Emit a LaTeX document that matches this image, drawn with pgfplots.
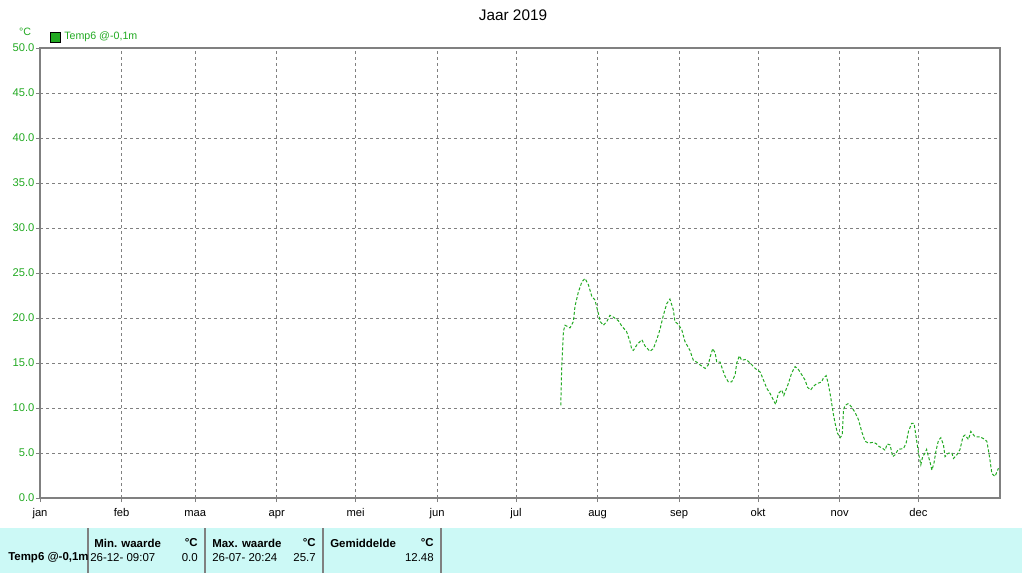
\documentclass[border=0pt]{standalone}
\usepackage{fontspec}
\setmainfont{Liberation Sans}
\usepackage{pgfplots}
\pgfplotsset{compat=1.18}

\definecolor{lijn}{RGB}{34,170,34}
\definecolor{kader}{RGB}{128,128,128}
\definecolor{tabel}{RGB}{204,249,246}

% pixel grid of the reference: 1 px = 0.75 pt
\begin{document}
\begin{tikzpicture}[font=\fontsize{8}{9.6}\selectfont]
\begin{scope}[x=0.75pt, y=-0.75pt]
  \useasboundingbox (0,0) rectangle (1024,573);
  \fill[white] (0,0) rectangle (1024,573);
  \node at (513,15) {\fontsize{11.5}{13}\selectfont Jaar 2019};
  \node[lijn] at (25,32) {°C};
  \draw[black, fill=lijn] (50,32) rectangle (60,42);
  \node[lijn, anchor=west, inner sep=0pt] at (64,37) {Temp6 @-0,1m};
\end{scope}

\begin{axis}[
    at={(30pt,-373.5pt)}, anchor=south west,
    scale only axis,
    width=720pt, height=337.5pt,
    xmin=0, xmax=365, ymin=0, ymax=50,
    xtick={0,31,59,90,120,151,181,212,243,273,304,334},
    xticklabels={jan,feb,maa,apr,mei,jun,jul,aug,sep,okt,nov,dec},
    ytick={0,5,...,50},
    xtick pos=left, ytick pos=left,
    tick align=outside, major tick length=3pt,
    tick style={kader, line width=0.75pt},
    axis line style={kader, line width=1.5pt},
    grid=major,
    major grid style={kader, line width=0.75pt, dash pattern=on 2.25pt off 2.25pt},
    /pgf/number format/assume math mode=true,
    yticklabel style={lijn, font=\fontsize{8.4}{10}\selectfont, inner sep=1pt, /pgf/number format/.cd, fixed, fixed zerofill, precision=1},
    xticklabel style={black, font=\fontsize{8.4}{10}\selectfont, inner sep=0pt, text height=6pt, text depth=2pt, yshift=-5pt},
]
\addplot[lijn, line width=0.75pt, dash pattern=on 2.25pt off 1.5pt] coordinates {
(198,10.3) (198.3,14.0) (198.6,16.1) (199,18.5) (199.6,19.2) (201.5,18.9)
(202.8,19.6) (203.4,21.3) (204.7,22.9) (206,24.0) (207.2,24.4) (208.5,23.7)
(209.8,22.4) (211,22.0) (212.3,20.5) (213,19.6) (214.2,19.2) (215.5,19.6)
(216.7,20.3) (218,20.1) (219.9,19.7) (221.2,19.1) (223,18.5) (224.3,17.4)
(225,16.5) (225.6,16.4) (226.9,17.0) (228.8,17.6) (230,16.9) (231.9,16.3)
(233.2,16.6) (234.5,17.6) (235.7,18.7) (237,20.3) (238.3,21.6) (239.5,22.1)
(240.8,20.9) (241.4,19.6) (242.7,19.3) (244,18.7) (245.2,17.4) (247.1,16.4)
(248.4,15.3) (249.7,15.1) (250.9,14.8) (252.9,14.4) (254.1,14.8) (254.8,15.7)
(255.8,16.6) (256.7,16.1) (257.3,15.1) (258.6,15.1) (259.6,14.2) (260.5,13.5)
(261.7,12.9) (263,12.9) (264.3,13.7) (264.9,15.0) (265.9,15.8) (266.8,15.3)
(268.4,15.4) (270,15.0) (271.9,14.4) (273.8,14.0) (274.8,13.3) (276.3,12.2)
(277.6,11.6) (278.8,10.9) (279.7,10.4) (280.7,11.6) (282,12.0) (282.8,11.4)
(284.5,12.7) (285.8,13.9) (287.1,14.6) (288.3,14.3) (289.6,13.7) (290.9,13.1)
(291.8,12.3) (293,12.0) (294,12.4) (295.3,12.7) (297.2,12.9) (297.8,13.3)
(298.9,13.6) (299.7,12.7) (300.4,11.6) (301,10.5) (301.6,9.4) (302.3,8.3)
(303.2,7.2) (304.2,6.7) (305,7.0) (305.5,9.8) (306.1,10.3) (307.4,10.5)
(308.6,10.1) (309.9,9.5) (311.2,8.7) (312.4,7.4) (313.7,6.3) (315,6.1)
(316.9,6.2) (318.1,6.0) (319.1,5.7) (320,5.6) (321.3,5.3) (322.1,6.0)
(323.2,5.9) (324.2,4.6) (325.1,4.8) (326.3,5.4) (328.3,5.5) (329.3,6.1)
(330.2,7.4) (331.4,8.3) (332.3,8.3) (333.1,6.8) (334,5.0) (334.9,3.7)
(335.6,4.6) (336.5,5.0) (337.1,5.4) (337.8,4.6) (338.4,4.0) (339.1,3.1)
(339.9,3.9) (340.7,5.3) (341.6,6.4) (342.5,6.7) (343.5,5.9) (344.1,4.6)
(345.4,5.0) (346.7,5.0) (347.3,4.4) (348.6,4.8) (349.8,5.4) (350.9,6.8)
(351.7,7.0) (353,6.5) (353.9,7.4) (355.5,6.8) (357.4,6.8) (358.7,6.6)
(360,6.3) (360.6,5.3) (361.2,4.2) (361.9,2.7) (363.1,2.4) (364.4,3.3)
};
\end{axis}

\begin{scope}[x=0.75pt, y=-0.75pt, font=\fontsize{8.6}{10}\selectfont]
  \fill[tabel] (0,528) rectangle (1022,573);
  \foreach \xs in {88,205,323,441}
    \draw[kader, line width=1.2pt] (\xs,528) -- (\xs,573);
  \begin{scope}
    \clip (0,528) rectangle (87,573);
    \node[anchor=west, inner sep=0pt] at (8,558) {\bfseries Temp6 @-0,1m};
  \end{scope}
  \node[anchor=west, inner sep=0pt] at (94,543) {\bfseries Min. waarde};
  \node[anchor=east, inner sep=0pt] at (198,543) {\bfseries °C};
  \node[anchor=west, inner sep=0pt] at (212,543) {\bfseries Max. waarde};
  \node[anchor=east, inner sep=0pt] at (316,543) {\bfseries °C};
  \node[anchor=west, inner sep=0pt] at (330,543) {\bfseries Gemiddelde};
  \node[anchor=east, inner sep=0pt] at (434,543) {\bfseries °C};
  \node[anchor=west, inner sep=0pt] at (90,558) {26-12-\ 09:07};
  \node[anchor=east, inner sep=0pt] at (198,558) {0.0};
  \node[anchor=west, inner sep=0pt] at (212,558) {26-07-\ 20:24};
  \node[anchor=east, inner sep=0pt] at (316,558) {25.7};
  \node[anchor=east, inner sep=0pt] at (434,558) {12.48};
\end{scope}
\end{tikzpicture}
\end{document}
